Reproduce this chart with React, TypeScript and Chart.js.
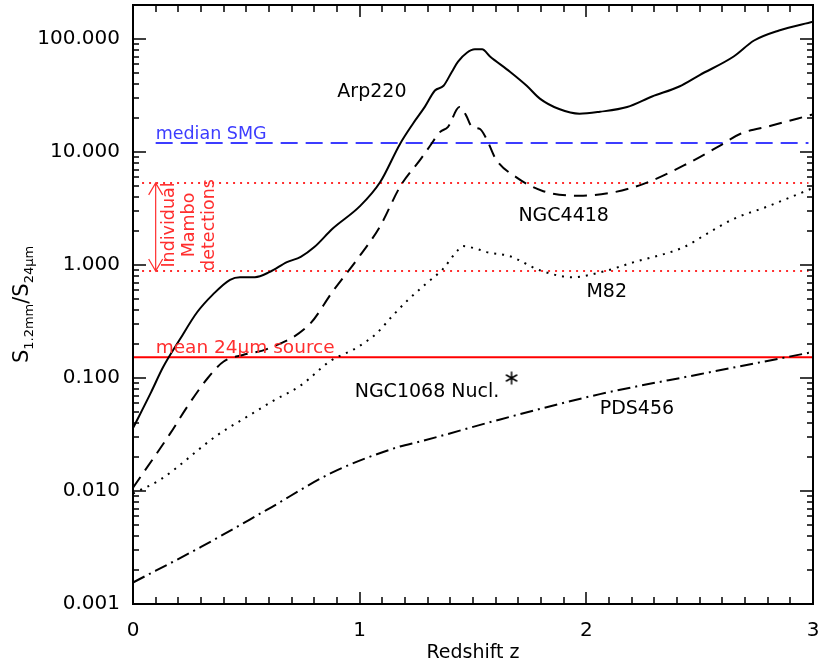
import React, { useEffect, useRef } from 'react';
import { Chart, registerables } from 'chart.js';
Chart.register(...registerables);

// ---- data ----
const arpZ = [0, 0.08, 0.133, 0.207, 0.282, 0.353, 0.428, 0.472, 0.538, 0.604, 0.679, 0.74, 0.80, 0.88, 1.0, 1.09, 1.178, 1.235, 1.288, 1.332, 1.37, 1.407, 1.434, 1.473, 1.508, 1.54, 1.575, 1.663, 1.737, 1.795, 1.88, 1.97, 2.06, 2.18, 2.29, 2.41, 2.50, 2.65, 2.74, 2.85, 3.0];
const arpV = [0.036, 0.075, 0.125, 0.22, 0.38, 0.55, 0.74, 0.78, 0.78, 0.87, 1.06, 1.18, 1.44, 2.09, 3.3, 5.4, 11.8, 17.8, 25.2, 35, 38.6, 51.4, 63, 75.6, 81, 81, 70, 51.4, 38.6, 29.7, 24, 21.8, 22.7, 25, 31, 38, 48, 70, 97, 119, 142];

const ngc4418Z = [0, 0.163, 0.24, 0.33, 0.40, 0.485, 0.59, 0.78, 0.88, 0.99, 1.09, 1.18, 1.27, 1.31, 1.354, 1.39, 1.44, 1.47, 1.495, 1.53, 1.56, 1.60, 1.69, 1.81, 1.97, 2.12, 2.25, 2.43, 2.59, 2.68, 2.81, 3.0];
const ngc4418V = [0.0107, 0.032, 0.056, 0.10, 0.14, 0.16, 0.18, 0.30, 0.58, 1.13, 2.2, 5.0, 8.7, 11.3, 15, 16.7, 25, 21, 16.7, 16, 13, 8.7, 6.0, 4.5, 4.1, 4.4, 5.2, 7.6, 11.4, 14.5, 17, 21.5];

const m82Z = [0, 0.12, 0.37, 0.50, 0.62, 0.74, 0.87, 0.99, 1.076, 1.142, 1.213, 1.292, 1.367, 1.43, 1.456, 1.52, 1.56, 1.66, 1.80, 1.94, 2.07, 2.21, 2.43, 2.53, 2.65, 2.80, 3.0];
const m82V = [0.0095, 0.0126, 0.031, 0.045, 0.063, 0.086, 0.141, 0.187, 0.25, 0.35, 0.49, 0.68, 0.92, 1.33, 1.47, 1.38, 1.30, 1.2, 0.89, 0.78, 0.87, 1.06, 1.44, 1.88, 2.56, 3.3, 4.8];

const pdsZ = [0, 0.30, 0.59, 0.88, 1.17, 1.27, 1.62, 2.06, 2.50, 3.0];
const pdsV = [0.00155, 0.0032, 0.0068, 0.0146, 0.0245, 0.0275, 0.043, 0.072, 0.108, 0.17];

const ngc1068Z = [1.67];
const ngc1068V = [0.1];

const medianSMG = 12.0;
const mamboHigh = 5.33;
const mamboLow = 0.885;
const mean24 = 0.153;
const smgRangeZ = [0.1, 2.98];
const mamboRangeZ = [0.04, 2.98];
const meanRangeZ = [0, 3];

const xTickValues = [0, 1, 2, 3];
const xTickLabels = ['0', '1', '2', '3'];
const yTickValues = [0.001, 0.01, 0.1, 1, 10, 100];
const yTickLabels = ['0.001', '0.010', '0.100', '1.000', '10.000', '100.000'];

const FONT = '"DejaVu Sans", sans-serif';
const RED = '#ff2e2e';
const BLUE = '#3c3cff';

function pts(zs: number[], vs: number[]) {
  return zs.map((z, i) => ({ x: z, y: vs[i] }));
}
function hline(range: number[], v: number) {
  return range.map((z) => ({ x: z, y: v }));
}

function makeAsterisk() {
  const c = document.createElement('canvas');
  c.width = 16; c.height = 16;
  const g = c.getContext('2d')!;
  g.strokeStyle = '#000';
  g.lineWidth = 1.5;
  g.beginPath();
  for (const ang of [90, 30, 150]) {
    const r = (ang * Math.PI) / 180;
    const dx = Math.cos(r) * 6.5, dy = Math.sin(r) * 6.5;
    g.moveTo(8 - dx, 8 - dy);
    g.lineTo(8 + dx, 8 + dy);
  }
  g.stroke();
  return c;
}

const decor = {
  id: 'decor',
  afterDatasetsDraw(chart: any) {
    const { ctx, chartArea: a, scales } = chart;
    const px = (z: number) => scales.x.getPixelForValue(z);
    const py = (v: number) => scales.y.getPixelForValue(v);
    ctx.save();
    // inward ticks
    ctx.strokeStyle = '#000';
    ctx.lineWidth = 1.5;
    ctx.beginPath();
    for (let i = 1; i < 30; i++) {
      const x = Math.round(px(i / 10));
      const L = i % 10 === 0 ? 12 : 7;
      ctx.moveTo(x, a.bottom); ctx.lineTo(x, a.bottom - L);
      ctx.moveTo(x, a.top); ctx.lineTo(x, a.top + L);
    }
    for (let d = -3; d <= 2; d++) {
      for (let m = 1; m <= 9; m++) {
        const v = m * Math.pow(10, d);
        if (v <= 0.001 || v >= 200) continue;
        const y = Math.round(py(v));
        const L = m === 1 ? 13 : 6;
        ctx.moveTo(a.left, y); ctx.lineTo(a.left + L, y);
        ctx.moveTo(a.right, y); ctx.lineTo(a.right - L, y);
      }
    }
    ctx.stroke();
    ctx.lineWidth = 2;
    ctx.strokeRect(a.left, a.top, a.right - a.left, a.bottom - a.top);

    // Mambo double arrow
    const ax = px(0.1);
    const yt = py(mamboHigh), yb = py(mamboLow);
    ctx.strokeStyle = RED;
    ctx.lineWidth = 1.2;
    ctx.beginPath();
    ctx.moveTo(ax, yt); ctx.lineTo(ax, yb);
    ctx.moveTo(ax - 7, yt + 12); ctx.lineTo(ax, yt); ctx.lineTo(ax + 7, yt + 12);
    ctx.moveTo(ax - 7, yb - 12); ctx.lineTo(ax, yb); ctx.lineTo(ax + 7, yb - 12);
    ctx.stroke();

    // labels
    const text = (s: string, x: number, y: number, size: number, color: string, align: string, base: string) => {
      ctx.font = `${size}px ${FONT}`;
      ctx.fillStyle = color;
      ctx.textAlign = align;
      ctx.textBaseline = base;
      ctx.fillText(s, x, y);
    };
    text('Arp220', px(1.054), py(34.2), 19, '#000', 'center', 'middle');
    text('NGC4418', px(1.90), py(2.72), 19, '#000', 'center', 'middle');
    text('M82', px(2.09), py(0.576), 19, '#000', 'center', 'middle');
    text('NGC1068 Nucl.', px(1.297), py(0.0748), 19, '#000', 'center', 'middle');
    text('PDS456', px(2.223), py(0.0529), 19, '#000', 'center', 'middle');
    text('median SMG', px(0.1), py(medianSMG) - 4, 17.5, BLUE, 'left', 'alphabetic');
    text('mean 24\u03bcm source', px(0.1), py(mean24) - 4, 18.5, RED, 'left', 'alphabetic');

    // rotated Mambo text
    const midY = py(2.26);
    const lines = [['Individual', 0.163], ['Mambo', 0.251], ['detections', 0.339]] as [string, number][];
    for (const [s, z] of lines) {
      ctx.save();
      ctx.translate(px(z), midY);
      ctx.rotate(-Math.PI / 2);
      text(s, 0, 0, 17.5, RED, 'center', 'middle');
      ctx.restore();
    }
    ctx.restore();
  },
  afterDraw(chart: any) {
    const { ctx, chartArea: a } = chart;
    ctx.save();
    ctx.fillStyle = '#000';
    // x title
    ctx.font = `19px ${FONT}`;
    ctx.textAlign = 'center';
    ctx.textBaseline = 'alphabetic';
    ctx.fillText('Redshift z', (a.left + a.right) / 2, 658);
    // y title with subscripts
    const parts: [string, number, number][] = [
      ['S', 21, 0], ['1.2mm', 13, 5], ['/', 21, 0], ['S', 21, 0], ['24\u03bcm', 13, 5],
    ];
    let total = 0;
    for (const [s, size] of parts) { ctx.font = `${size}px ${FONT}`; total += ctx.measureText(s).width; }
    ctx.translate(28, (a.top + a.bottom) / 2);
    ctx.rotate(-Math.PI / 2);
    ctx.textAlign = 'left';
    let x = -total / 2;
    for (const [s, size, off] of parts) {
      ctx.font = `${size}px ${FONT}`;
      ctx.fillText(s, x, off);
      x += ctx.measureText(s).width;
    }
    ctx.restore();
  },
};

export default function App() {
  const ref = useRef<HTMLCanvasElement>(null);
  useEffect(() => {
    const star = makeAsterisk();
    const line = (data: any[], color: string, width: number, dash: number[]) => ({
      data,
      borderColor: color,
      backgroundColor: color,
      borderWidth: width,
      borderDash: dash,
      pointRadius: 0,
      fill: false,
      cubicInterpolationMode: 'monotone',
    });
    const chart = new Chart(ref.current!, {
      type: 'line',
      data: {
        datasets: [
          line(pts(arpZ, arpV), '#000', 2, []),
          line(pts(ngc4418Z, ngc4418V), '#000', 2, [13, 8]),
          line(pts(m82Z, m82V), '#000', 2, [2, 6]),
          line(pts(pdsZ, pdsV), '#000', 2, [13, 5, 2, 5]),
          line(hline(smgRangeZ, medianSMG), BLUE, 2, [17, 8]),
          line(hline(mamboRangeZ, mamboHigh), RED, 2, [2, 5]),
          line(hline(mamboRangeZ, mamboLow), RED, 2, [2, 5]),
          line(hline(meanRangeZ, mean24), '#ff0000', 2, []),
          {
            type: 'scatter',
            data: pts(ngc1068Z, ngc1068V),
            pointStyle: star,
            pointRadius: 8,
            showLine: false,
          } as any,
        ] as any,
      },
      options: {
        responsive: false,
        animation: false,
        events: [],
        layout: { autoPadding: false, padding: { left: 0, right: 17, top: 5, bottom: 0 } },
        plugins: { legend: { display: false }, tooltip: { enabled: false } },
        scales: {
          x: {
            type: 'linear',
            min: 0,
            max: 3,
            grid: { display: false },
            border: { display: false },
            afterBuildTicks: (s: any) => { s.ticks = xTickValues.map((v) => ({ value: v })); },
            afterFit: (s: any) => { s.height = 60; s.paddingLeft = 0; s.paddingRight = 0; },
            ticks: {
              autoSkip: false,
              maxRotation: 0,
              padding: 7,
              color: '#000',
              font: { family: FONT, size: 20 },
              callback: (_v: any, i: number) => xTickLabels[i],
            },
          },
          y: {
            type: 'logarithmic',
            min: 0.001,
            max: 200,
            grid: { display: false },
            border: { display: false },
            afterBuildTicks: (s: any) => { s.ticks = yTickValues.map((v) => ({ value: v })); },
            afterFit: (s: any) => { s.width = 133; s.paddingTop = 0; s.paddingBottom = 0; },
            ticks: {
              autoSkip: false,
              padding: 5,
              color: '#000',
              font: { family: FONT, size: 20 },
              callback: (_v: any, i: number) => yTickLabels[i],
            },
          },
        },
      } as any,
      plugins: [decor as any],
    });
    return () => chart.destroy();
  }, []);
  return (
    <canvas
      ref={ref}
      width={830}
      height={664}
      style={{ position: 'absolute', left: 0, top: 0, display: 'block', background: '#fff' }}
    />
  );
}
